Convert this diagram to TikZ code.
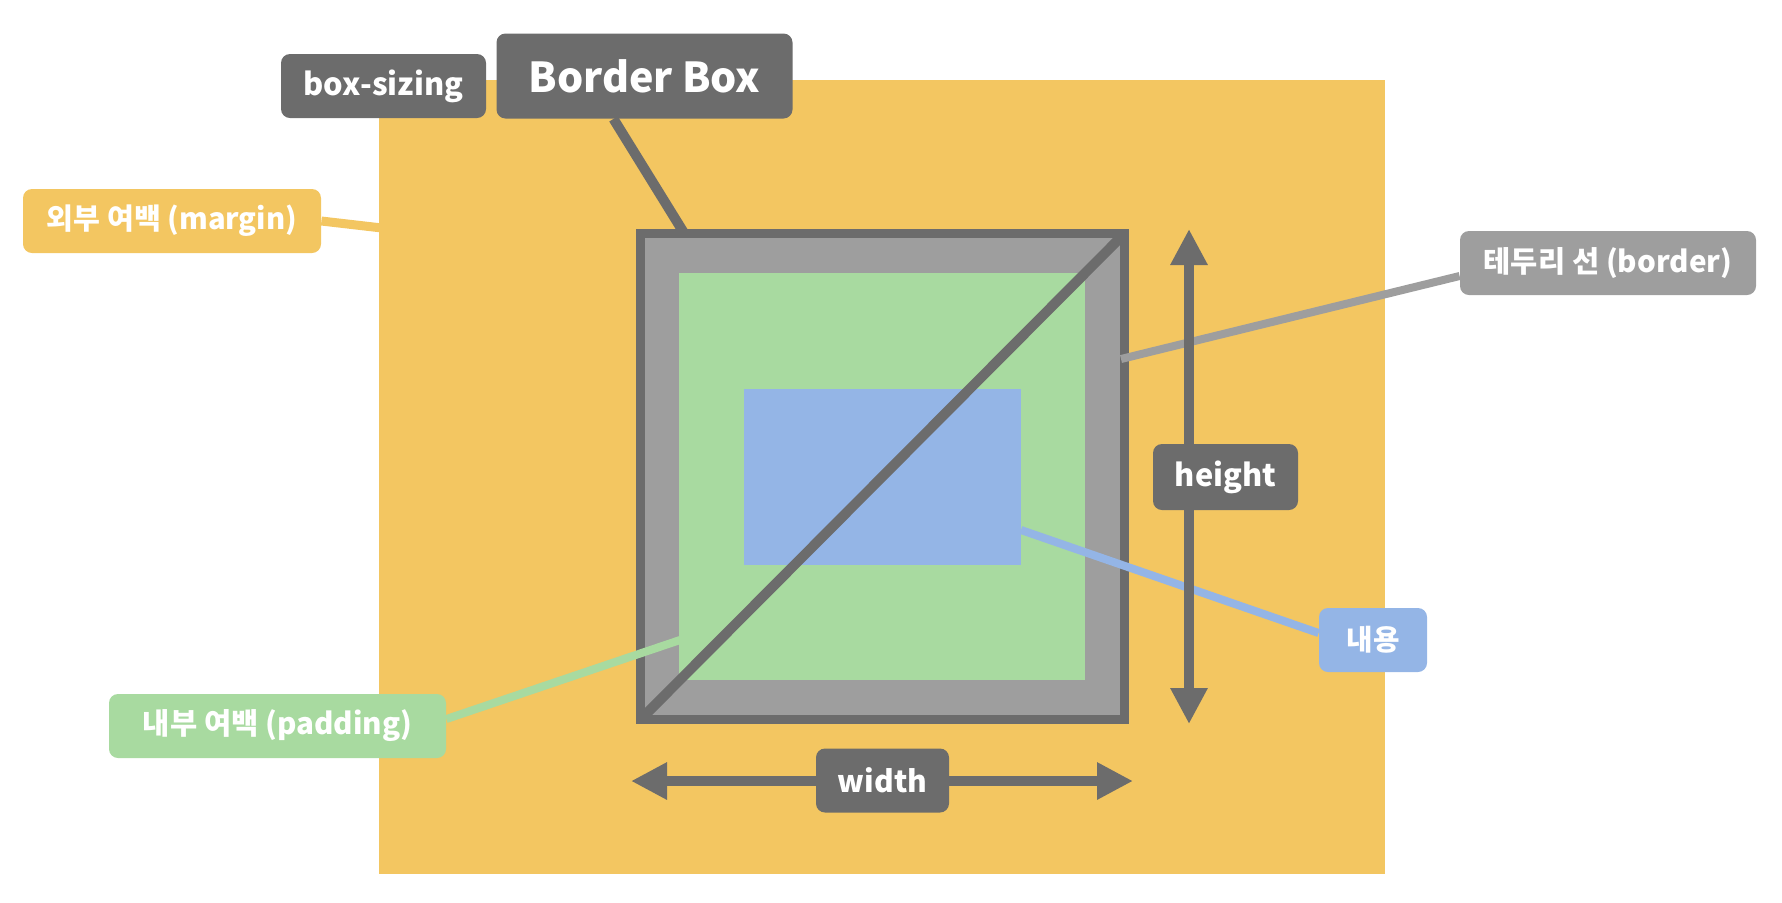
\documentclass[tikz,border=0pt]{standalone}
\usepackage{fontspec}
\setmainfont{Noto Sans CJK KR}[BoldFont={Noto Sans CJK KR Black}]
\usetikzlibrary{arrows.meta}
\definecolor{myyellow}{HTML}{F3C661}
\definecolor{dgray}{HTML}{6C6C6C}
\definecolor{mgray}{HTML}{9E9E9E}
\definecolor{mgreen}{HTML}{A8DAA0}
\definecolor{mblue}{HTML}{94B5E6}
\pgfdeclarelayer{bg}
\pgfsetlayers{bg,main}
\tikzset{
  tag/.style={rounded corners=4.5pt, text=white, font=\bfseries, inner sep=0pt, align=center},
  conn/.style={line width=4.5pt},
  dimarrow/.style={draw=dgray, line width=5pt, {Triangle[length=18pt,width=17.5pt]}-{Triangle[length=18pt,width=17.5pt]}},
}
\begin{document}
\begin{tikzpicture}[x=0.5pt,y=-0.5pt]
\useasboundingbox (0,0) rectangle (1782,902);
% labels
\node[tag, fill=dgray, minimum width=102.5pt, minimum height=32pt, font=\bfseries\fontsize{15.4}{18}\selectfont] (bs) at (383.5,86) {box-sizing};
\node[tag, fill=dgray, minimum width=148pt, minimum height=42.5pt, font=\bfseries\fontsize{20.6}{24}\selectfont] (bb) at (644.5,76) {Border Box};
\node[tag, fill=myyellow, minimum width=149pt, minimum height=32pt, font=\bfseries\fontsize{14.6}{18}\selectfont] (mg) at (172,221) {외부 여백 (margin)};
\node[tag, fill=mgray, minimum width=148pt, minimum height=32pt, font=\bfseries\fontsize{14.8}{18}\selectfont] (bl) at (1608,263) {테두리 선 (border)};
\node[tag, fill=dgray, minimum width=72.5pt, minimum height=33pt, font=\bfseries\fontsize{15.4}{18}\selectfont] (ht) at (1225.5,477) {height};
\node[tag, fill=mblue, minimum width=54pt, minimum height=32pt, font=\bfseries\fontsize{14.4}{17}\selectfont] (ct) at (1373,640) {내용};
\node[tag, fill=dgray, minimum width=66.5pt, minimum height=32pt, font=\bfseries\fontsize{15}{18}\selectfont] (wd) at (882.5,780.5) {width};
\node[tag, fill=mgreen, minimum width=168.5pt, minimum height=32pt, font=\bfseries\fontsize{14.8}{18}\selectfont] (pd) at (277.5,726) {내부 여백 (padding)};
\begin{pgfonlayer}{bg}
  % margin area
  \fill[myyellow] (379,80) rectangle (1385,874);
  % coordinates on the box
  \coordinate (bbEnd) at (684,233);
  \coordinate (mgEnd) at (382,228);
  \coordinate (blStart) at (1121,359);
  \coordinate (ctStart) at (1021,530);
  \coordinate (pdEnd) at (680,640);
  \coordinate (dBL) at (645,715);
  \coordinate (dTR) at (1120,238);
  \coordinate (hTop) at (1189,229);
  \coordinate (hBot) at (1189,724);
  \coordinate (wL) at (631,781);
  \coordinate (wR) at (1133,781);
  % border box connector (under box)
  \draw[dgray, line width=5pt] ([xshift=-15.5pt]bb.south) -- (bbEnd);
  % margin connector
  \draw[myyellow, conn] (mg.east) -- (mgEnd);
  % the box
  \draw[dgray, fill=mgray, line width=4.5pt] (640.5,233.5) rectangle (1124.5,719.5);
  \fill[mgreen] (679,273) rectangle (1085,680);
  \fill[mblue] (744,389) rectangle (1021,565);
  \draw[dgray, line width=5pt] (dBL) -- (dTR);
  % connectors over the box
  \draw[mgray, line width=4pt] (blStart) -- ([yshift=-6.5pt]bl.west);
  \draw[mblue, line width=4pt] (ctStart) -- ([yshift=3.5pt]ct.west);
  \draw[mgreen, line width=4pt] ([yshift=3.5pt]pd.east) -- (pdEnd);
  % dimension arrows
  \draw[dimarrow] (hTop) -- (hBot);
  \draw[dimarrow] (wL) -- (wR);
\end{pgfonlayer}
\end{tikzpicture}
\end{document}
